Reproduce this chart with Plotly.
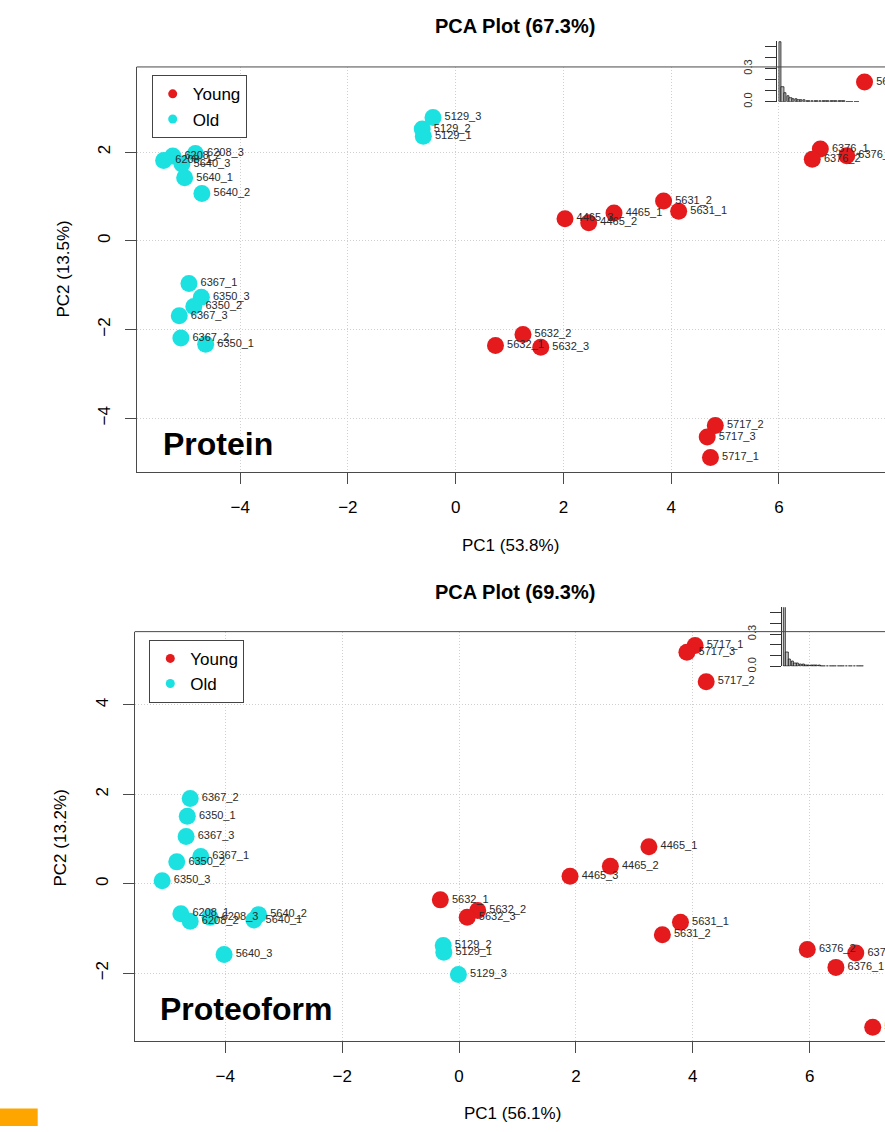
import plotly.graph_objects as go

FONT = "Liberation Sans, Arial, sans-serif"
RED = "#E41A1C"
CYAN = "#1CE1E1"

# ---------------- Protein PCA ----------------
prot_young_labels = ["4465_1", "4465_2", "4465_3", "5631_1", "5631_2", "5631_3",
                     "5632_1", "5632_2", "5632_3", "5717_1", "5717_2", "5717_3",
                     "6376_1", "6376_2", "6376_3"]
prot_young_pc1 = [2.94, 2.47, 2.03, 4.14, 3.86, 7.59, 0.74, 1.25, 1.58, 4.73, 4.82, 4.67, 6.77, 6.62, 7.26]
prot_young_pc2 = [0.63, 0.41, 0.50, 0.67, 0.90, 3.58, -2.36, -2.11, -2.40, -4.88, -4.16, -4.42, 2.07, 1.84, 1.92]

prot_old_labels = ["5129_1", "5129_2", "5129_3", "5640_1", "5640_2", "5640_3",
                   "6208_1", "6208_2", "6208_3", "6350_1", "6350_2", "6350_3",
                   "6367_1", "6367_2", "6367_3"]
prot_old_pc1 = [-0.60, -0.62, -0.42, -5.03, -4.71, -5.08, -5.42, -5.25, -4.83, -4.64, -4.86, -4.72, -4.95, -5.10, -5.13]
prot_old_pc2 = [2.36, 2.52, 2.78, 1.42, 1.07, 1.73, 1.81, 1.91, 1.97, -2.33, -1.48, -1.27, -0.96, -2.19, -1.69]

prot_scree = [0.538, 0.135, 0.075, 0.050, 0.035, 0.027, 0.022, 0.018, 0.015, 0.012,
              0.010, 0.009, 0.008, 0.007, 0.006, 0.005, 0.004, 0.004, 0.003, 0.003,
              0.003, 0.002, 0.002, 0.002, 0.002, 0.001, 0.001, 0.001, 0.001, 0.0005]

# ---------------- Proteoform PCA ----------------
pf_young_labels = ["4465_1", "4465_2", "4465_3", "5631_1", "5631_2", "5631_3",
                   "5632_1", "5632_2", "5632_3", "5717_1", "5717_2", "5717_3",
                   "6376_1", "6376_2", "6376_3"]
pf_young_pc1 = [3.25, 2.59, 1.90, 3.79, 3.48, 7.08, -0.32, 0.32, 0.14, 4.04, 4.23, 3.90, 6.45, 5.96, 6.79]
pf_young_pc2 = [0.83, 0.39, 0.17, -0.86, -1.14, -3.21, -0.36, -0.60, -0.75, 5.33, 4.52, 5.18, -1.87, -1.47, -1.55]

pf_old_labels = ["5129_1", "5129_2", "5129_3", "5640_1", "5640_2", "5640_3",
                 "6208_1", "6208_2", "6208_3", "6350_1", "6350_2", "6350_3",
                 "6367_1", "6367_2", "6367_3"]
pf_old_pc1 = [-0.26, -0.27, -0.01, -3.51, -3.43, -4.02, -4.76, -4.60, -4.26, -4.65, -4.83, -5.08, -4.42, -4.60, -4.67]
pf_old_pc2 = [-1.53, -1.38, -2.03, -0.81, -0.69, -1.58, -0.67, -0.84, -0.75, 1.51, 0.49, 0.07, 0.61, 1.91, 1.06]

pf_scree = [0.561, 0.132, 0.065, 0.045, 0.033, 0.026, 0.020, 0.016, 0.013, 0.011,
            0.009, 0.008, 0.007, 0.006, 0.005, 0.005, 0.004, 0.004, 0.003, 0.003,
            0.003, 0.002, 0.002, 0.002, 0.002, 0.001, 0.001, 0.001, 0.001, 0.0005]

groups = ["Young", "Old"]

W, H = 885, 1132


def px(x):
    return x / W


def py(y):
    return 1 - y / H


fig = go.Figure()


def add_scatter(xs, ys, labels, color, xa, ya):
    fig.add_trace(go.Scatter(
        x=xs, y=ys, text=labels, mode="markers+text",
        textposition="middle right",
        textfont=dict(family=FONT, size=11, color="#2a2a2a"),
        marker=dict(size=17, color=color, line=dict(width=0)),
        xaxis=xa, yaxis=ya, showlegend=False, hoverinfo="text",
        cliponaxis=False,
    ))


add_scatter(prot_young_pc1, prot_young_pc2, prot_young_labels, RED, "x", "y")
add_scatter(prot_old_pc1, prot_old_pc2, prot_old_labels, CYAN, "x", "y")
add_scatter(pf_young_pc1, pf_young_pc2, pf_young_labels, RED, "x2", "y2")
add_scatter(pf_old_pc1, pf_old_pc2, pf_old_labels, CYAN, "x2", "y2")

# legend entries
for lg, xa, ya in [("legend", "x", "y"), ("legend2", "x2", "y2")]:
    for name, col in zip(groups, [RED, CYAN]):
        fig.add_trace(go.Scatter(
            x=[None], y=[None], mode="markers", name=name,
            marker=dict(size=9, color=col), xaxis=xa, yaxis=ya,
            legend=lg, showlegend=True,
        ))

# scree insets
pcs = list(range(1, len(prot_scree) + 1))
fig.add_trace(go.Bar(x=pcs, y=prot_scree, width=0.83,
                     marker=dict(color="#BEBEBE", line=dict(color="black", width=0.7)),
                     xaxis="x3", yaxis="y3", showlegend=False, hoverinfo="skip"))
fig.add_trace(go.Bar(x=pcs, y=pf_scree, width=0.83,
                     marker=dict(color="#BEBEBE", line=dict(color="black", width=0.7)),
                     xaxis="x4", yaxis="y4", showlegend=False, hoverinfo="skip"))

FRAME = "#4a4a4a"
GRID = "#D0D0D0"
tickfont = dict(family=FONT, size=17, color="black")

common_x = dict(showline=True, linecolor=FRAME, linewidth=1, ticks="outside", ticklen=11,
                tickcolor=FRAME, tickwidth=1, showgrid=True, gridcolor=GRID, griddash="1px,2px",
                gridwidth=1, zeroline=False, dtick=2, tick0=0, tickfont=tickfont,
                ticklabelstandoff=8)
common_y = dict(showline=True, linecolor=FRAME, linewidth=1, ticks="outside", ticklen=11,
                tickcolor=FRAME, tickwidth=1, showgrid=True, gridcolor=GRID, griddash="1px,2px",
                gridwidth=1, zeroline=False, dtick=2, tick0=0, tickfont=tickfont,
                tickangle=-90, ticklabelstandoff=8)

top_x = [136.7, 885]
top_y = [475, 67.3]
bot_x = [134.7, 885]
bot_y = [1046.7, 635]

inset_axis_y = dict(showline=True, linecolor="#333333", linewidth=1, ticks="outside", ticklen=11,
                    tickcolor="#333333", tickvals=[0, 0.1, 0.2, 0.3, 0.4, 0.5],
                    ticktext=["0.0", "", "", "0.3", "", ""], tickangle=-90,
                    tickfont=dict(family=FONT, size=11, color="#333333"),
                    showgrid=False, zeroline=False, ticklabelstandoff=9)

fig.update_layout(
    width=W, height=H, margin=dict(l=0, r=0, t=0, b=0),
    plot_bgcolor="rgba(0,0,0,0)", paper_bgcolor="white",
    xaxis=dict(domain=[px(top_x[0]), 1], range=[-5.92, 7.97], anchor="y", **common_x),
    yaxis=dict(domain=[py(top_y[0]), py(top_y[1])], range=[-5.22, 3.92], anchor="x", **common_y),
    xaxis2=dict(domain=[px(bot_x[0]), 1], range=[-5.55, 7.29], anchor="y2", **common_x),
    yaxis2=dict(domain=[py(bot_y[0]), py(bot_y[1])], range=[-3.52, 5.64], anchor="x2", **common_y),
    xaxis3=dict(domain=[px(777.3), px(860)], range=[-0.05, 30.79], anchor="y3", visible=False),
    yaxis3=dict(domain=[py(102.3), py(41.3)], range=[0, 0.55], anchor="x3", **inset_axis_y),
    xaxis4=dict(domain=[px(781.7), px(865)], range=[-0.01, 30.78], anchor="y4", visible=False),
    yaxis4=dict(domain=[py(670), py(610.6)], range=[0, 0.55], anchor="x4", **inset_axis_y),
    legend=dict(x=px(151.7), y=py(75.7), xanchor="left", yanchor="top",
                bordercolor="#444444", borderwidth=1, bgcolor="white",
                font=dict(family=FONT, size=17, color="black"), tracegroupgap=0),
    legend2=dict(x=px(149.3), y=py(643.3), xanchor="left", yanchor="top",
                 bordercolor="#444444", borderwidth=1, bgcolor="white",
                 font=dict(family=FONT, size=17, color="black"), tracegroupgap=0),
    bargap=0,
)

annotations = [
    dict(text="<b>PCA Plot (67.3%)</b>", x=px(515), y=py(26), font=dict(size=20)),
    dict(text="<b>PCA Plot (69.3%)</b>", x=px(515), y=py(595), font=dict(size=20)),
    dict(text="PC1 (53.8%)", x=px(510), y=py(548), font=dict(size=17)),
    dict(text="PC1 (56.1%)", x=px(512), y=py(1119), font=dict(size=17)),
    dict(text="PC2 (13.5%)", x=px(64), y=py(271), font=dict(size=17), textangle=-90),
    dict(text="PC2 (13.2%)", x=px(61), y=py(843), font=dict(size=17), textangle=-90),
]
for a in annotations:
    a.update(xref="paper", yref="paper", showarrow=False, xanchor="center", yanchor="middle")
    a["font"].update(family=FONT, color="black")
annotations += [
    dict(text="<b>Protein</b>", x=px(160.5), y=py(446), xref="paper", yref="paper",
         showarrow=False, xanchor="left", yanchor="middle",
         font=dict(family=FONT, size=32, color="black")),
    dict(text="<b>Proteoform</b>", x=px(158), y=py(1014), xref="paper", yref="paper",
         showarrow=False, xanchor="left", yanchor="middle",
         font=dict(family=FONT, size=32, color="black")),
]
fig.update_layout(annotations=annotations)

shapes = [
    dict(type="line", xref="paper", yref="paper", x0=px(top_x[0]), x1=1,
         y0=py(top_y[1]), y1=py(top_y[1]), line=dict(color=FRAME, width=1)),
    dict(type="line", xref="paper", yref="paper", x0=px(bot_x[0]), x1=1,
         y0=py(bot_y[1]), y1=py(bot_y[1]), line=dict(color=FRAME, width=1)),
    dict(type="rect", xref="paper", yref="paper", x0=0, x1=px(37.7),
         y0=0, y1=py(1114.3), line=dict(width=0), fillcolor="#FFA500"),
]
fig.update_layout(shapes=shapes)

fig.write_html("out.html")
